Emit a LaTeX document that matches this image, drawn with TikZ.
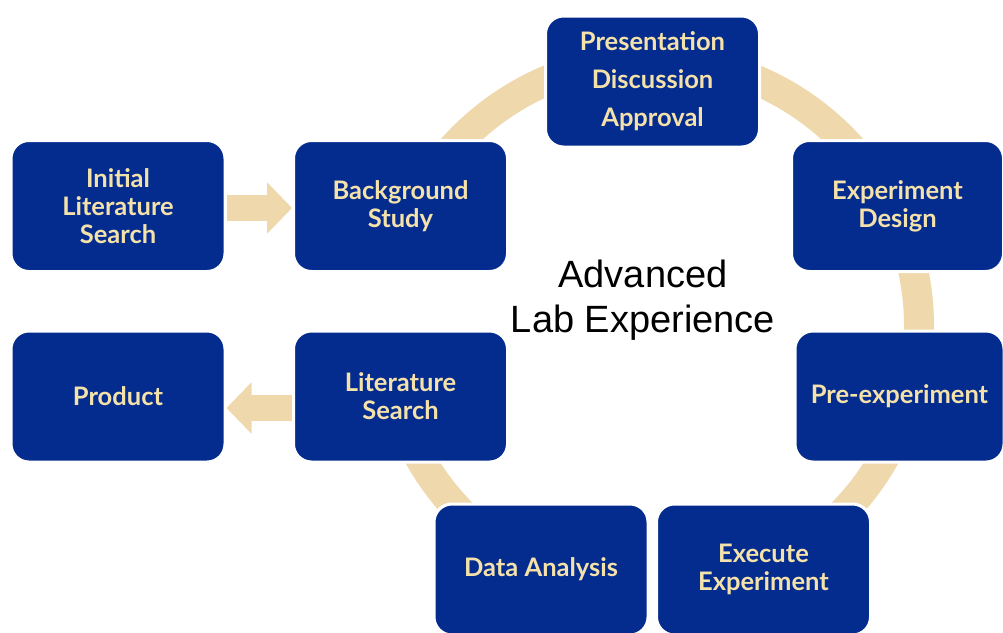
\documentclass[tikz,border=0pt]{standalone}
\usepackage{fontspec}
\setmainfont{Lato}
\setsansfont{Liberation Sans}
\usetikzlibrary{arrows.meta,calc}
\definecolor{boxnavy}{RGB}{4,44,142}
\definecolor{boxtext}{RGB}{244,226,170}
\definecolor{ringtan}{RGB}{239,216,172}
\begin{document}
\begin{tikzpicture}[x=1pt,y=-1pt,
  stage/.style={rectangle, rounded corners=18pt, fill=boxnavy, draw=white,
    line width=3pt, minimum width=214pt, minimum height=131pt,
    text=boxtext, font=\fontsize{25.5}{28}\selectfont\bfseries,
    align=center, inner sep=0pt},
  flow/.style={ringtan, line width=26pt,
    -{Triangle[length=25pt,width=50pt]}},
  cyclering/.style={ringtan, line width=30pt},
]
\useasboundingbox (0,0) rectangle (1003,632);

% the cycle ring behind the stages, open on the left and at the bottom
% (angles below are in page orientation: 90 = up)
\coordinate (hub) at (652,326);
\draw[cyclering] ([shift={(188:267pt)}]hub) arc[start angle=188, end angle=265, radius=267pt];
\draw[cyclering] ([shift={(275:267pt)}]hub) arc[start angle=275, end angle=525, radius=267pt];

% stages
\node[stage] (init) at (118,206) {Initial\\Literature\\Search};
\node[stage] (bg)   at (400.5,206) {Background\\Study};
\node[stage] (pres) at (652.5,81.5) {Presentation\\[10pt]Discussion\\[10pt]Approval};
\node[stage, minimum width=212pt] (expd) at (897.5,206) {Experiment\\Design};
\node[stage, minimum width=209pt] (pre)  at (899.5,396.5) {Pre-experiment};
\node[stage] (exec) at (763.5,569.5) {Execute\\Experiment};
\node[stage] (data) at (541,569.5) {Data Analysis};
\node[stage] (lit)  at (400.5,396.5) {Literature\\Search};
\node[stage] (prod) at (118,396.5) {Product};

% block arrows into and out of the cycle
\draw[flow] ([yshift=-2pt]init.east) -- ([yshift=-2pt]bg.west);
\draw[flow] ([yshift=-11.5pt]lit.west) -- ([yshift=-11.5pt]prod.east);

% title in the middle of the ring
\node[font=\sffamily\fontsize{38}{45}\selectfont, align=center, inner sep=0pt]
  (title) at (643,300) {Advanced\\Lab Experience};
\end{tikzpicture}
\end{document}
